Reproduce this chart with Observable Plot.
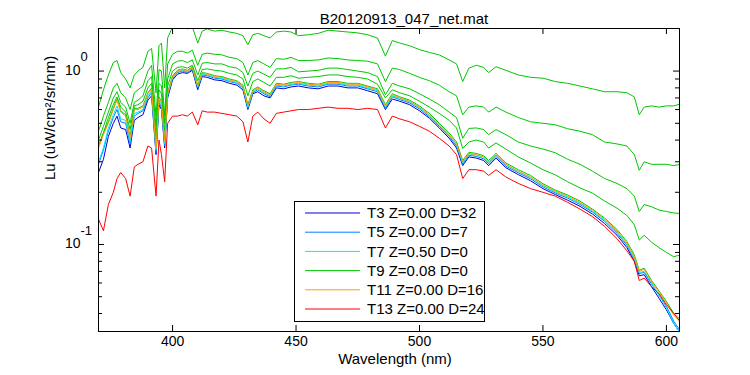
<!DOCTYPE html>
<html><head><meta charset="utf-8">
<script src="https://cdn.jsdelivr.net/npm/d3@7"></script>
<script src="https://cdn.jsdelivr.net/npm/@observablehq/plot@0.6"></script>
<style>
html,body{margin:0;padding:0;background:#fff;}
#chart{position:relative;width:750px;height:375px;}
svg{font-family:"Liberation Sans",Arial,Helvetica,sans-serif;}
</style></head><body><div id="chart"></div>
<script>
const wavelengths = [
370,372,374,376,377.5,379,381,382.8,384.5,386,
388,390,391.5,393.3,394.5,395.5,396.8,398,400,402,
404,406,408,410.2,412,414,417,420,423,426,
428.5,430.5,432.5,434.5,437,439.5,442,445,448,451,
455,459,463,467,471,475,479,483,486.2,489,
492,496,500,504,508,512,515,517.5,520,523,
526,528,531,535,540,545,550,555,560,565,
570,575,580,584,587,589,591,594,597,600,
603,605.5];

const T3 = [
0.26,0.31,0.42,0.50,0.55,0.47,0.46,0.36,0.52,0.54,
0.56,0.68,0.72,0.33,0.64,0.60,0.36,0.70,0.89,0.96,
0.98,0.97,1.01,0.78,0.93,0.92,0.89,0.88,0.85,0.83,
0.78,0.60,0.74,0.76,0.72,0.70,0.80,0.79,0.81,0.82,
0.80,0.79,0.82,0.82,0.80,0.80,0.77,0.74,0.60,0.69,
0.67,0.64,0.59,0.535,0.47,0.41,0.36,0.285,0.32,0.315,
0.305,0.285,0.315,0.277,0.253,0.233,0.21,0.194,0.18,0.166,
0.15,0.132,0.113,0.096,0.08,0.066,0.067,0.057,0.049,0.042,
0.035,0.031];
const T5 = [
0.29,0.35,0.45,0.54,0.60,0.51,0.50,0.38,0.55,0.57,
0.59,0.70,0.75,0.34,0.66,0.62,0.37,0.72,0.91,0.98,
1.00,0.98,1.03,0.80,0.95,0.94,0.91,0.90,0.87,0.85,
0.80,0.61,0.75,0.78,0.74,0.71,0.82,0.81,0.83,0.84,
0.82,0.81,0.84,0.84,0.82,0.82,0.79,0.76,0.61,0.71,
0.685,0.655,0.605,0.545,0.48,0.42,0.37,0.29,0.327,0.322,
0.312,0.292,0.322,0.283,0.259,0.239,0.215,0.198,0.185,0.17,
0.154,0.136,0.116,0.099,0.082,0.068,0.069,0.059,0.051,0.044,
0.036,0.032];
const T7 = [
0.30,0.36,0.47,0.56,0.63,0.53,0.52,0.39,0.57,0.58,
0.60,0.72,0.77,0.35,0.68,0.64,0.38,0.73,0.92,0.99,
1.01,0.99,1.04,0.81,0.96,0.95,0.92,0.91,0.88,0.86,
0.81,0.62,0.76,0.79,0.75,0.72,0.83,0.82,0.84,0.85,
0.83,0.82,0.85,0.85,0.83,0.83,0.80,0.77,0.62,0.72,
0.695,0.665,0.615,0.555,0.49,0.428,0.378,0.296,0.333,0.328,
0.318,0.298,0.328,0.288,0.263,0.243,0.219,0.201,0.188,0.173,
0.156,0.138,0.118,0.10,0.083,0.069,0.07,0.06,0.051,0.043,
0.035,0.031];
const T9 = [
0.37,0.44,0.51,0.61,0.69,0.59,0.56,0.42,0.61,0.61,
0.63,0.75,0.80,0.37,0.71,0.67,0.40,0.75,0.94,1.01,
1.03,1.01,1.06,0.83,0.98,0.97,0.94,0.93,0.90,0.88,
0.83,0.64,0.78,0.81,0.77,0.74,0.85,0.84,0.86,0.87,
0.85,0.84,0.87,0.87,0.85,0.85,0.82,0.79,0.64,0.74,
0.71,0.68,0.63,0.57,0.50,0.44,0.39,0.305,0.34,0.335,
0.325,0.305,0.335,0.295,0.27,0.25,0.224,0.206,0.193,0.178,
0.16,0.142,0.122,0.104,0.087,0.071,0.073,0.062,0.054,0.047,
0.040,0.037];
const T11 = [
0.36,0.43,0.50,0.60,0.68,0.58,0.55,0.41,0.60,0.60,
0.62,0.74,0.79,0.36,0.70,0.66,0.39,0.74,0.93,1.00,
1.02,1.00,1.05,0.82,0.97,0.96,0.93,0.92,0.89,0.87,
0.82,0.63,0.77,0.80,0.76,0.73,0.84,0.83,0.85,0.86,
0.84,0.83,0.86,0.86,0.84,0.84,0.81,0.78,0.63,0.73,
0.70,0.67,0.62,0.56,0.49,0.43,0.38,0.30,0.335,0.33,
0.32,0.30,0.33,0.29,0.265,0.245,0.22,0.203,0.19,0.175,
0.158,0.14,0.12,0.102,0.085,0.07,0.072,0.061,0.053,0.046,
0.039,0.036];
const T13 = [
0.14,0.12,0.17,0.20,0.24,0.26,0.24,0.19,0.28,0.29,
0.30,0.37,0.36,0.19,0.40,0.33,0.23,0.50,0.55,0.55,
0.56,0.55,0.58,0.49,0.59,0.58,0.58,0.57,0.56,0.55,
0.51,0.39,0.55,0.58,0.53,0.50,0.57,0.58,0.59,0.60,
0.60,0.61,0.62,0.61,0.61,0.60,0.61,0.60,0.47,0.55,
0.53,0.51,0.48,0.45,0.41,0.37,0.33,0.24,0.27,0.27,
0.265,0.25,0.27,0.245,0.225,0.21,0.20,0.19,0.175,0.16,
0.145,0.127,0.108,0.092,0.08,0.062,0.064,0.057,0.052,0.045,
0.040,0.036];

// additional green (T9) profiles above the main bundle
const G1 = [
0.62,0.78,0.95,1.12,1.15,0.98,0.90,0.80,0.95,1.00,
1.05,1.30,1.35,0.75,1.40,1.45,0.80,1.55,1.80,1.85,
1.85,1.75,1.80,1.45,1.70,1.75,1.70,1.72,1.68,1.65,
1.60,1.42,1.62,1.65,1.60,1.55,1.68,1.70,1.68,1.60,
1.62,1.65,1.72,1.70,1.68,1.66,1.62,1.55,1.22,1.50,
1.45,1.40,1.33,1.28,1.24,1.16,1.10,0.87,1.04,1.08,
1.05,0.98,1.06,1.01,0.95,0.92,0.91,0.87,0.85,0.82,
0.79,0.76,0.76,0.75,0.71,0.56,0.62,0.63,0.62,0.63,
0.63,0.645];
const G2 = [
0.45,0.55,0.66,0.80,0.85,0.75,0.70,0.60,0.75,0.78,
0.82,1.00,1.08,0.55,1.02,1.00,0.55,1.10,1.25,1.30,
1.30,1.27,1.32,1.08,1.25,1.27,1.25,1.24,1.20,1.18,
1.12,0.95,1.12,1.15,1.10,1.05,1.18,1.17,1.20,1.15,
1.15,1.16,1.19,1.18,1.16,1.15,1.14,1.10,0.87,1.04,
1.02,0.97,0.92,0.88,0.83,0.76,0.72,0.56,0.62,0.63,
0.62,0.58,0.62,0.58,0.54,0.51,0.50,0.49,0.465,0.45,
0.43,0.39,0.38,0.37,0.33,0.268,0.30,0.29,0.29,0.29,
0.285,0.29];
const G3 = [
0.40,0.48,0.58,0.70,0.76,0.66,0.62,0.50,0.66,0.68,
0.72,0.88,0.93,0.48,0.85,0.82,0.50,0.90,1.10,1.14,
1.15,1.12,1.16,0.95,1.11,1.12,1.10,1.10,1.06,1.04,
0.98,0.82,0.97,1.00,0.96,0.92,1.03,1.03,1.05,0.99,
1.00,1.01,1.04,1.04,1.02,1.00,0.98,0.93,0.73,0.85,
0.82,0.79,0.74,0.69,0.64,0.58,0.54,0.41,0.467,0.47,
0.46,0.43,0.46,0.43,0.39,0.37,0.355,0.338,0.31,0.29,
0.265,0.24,0.225,0.21,0.19,0.155,0.17,0.165,0.158,0.155,
0.152,0.151];
const G4 = [
0.37,0.44,0.54,0.64,0.71,0.62,0.58,0.46,0.63,0.64,
0.67,0.80,0.85,0.42,0.78,0.74,0.45,0.82,1.00,1.05,
1.06,1.04,1.08,0.88,1.02,1.03,1.01,1.00,0.97,0.95,
0.90,0.72,0.87,0.90,0.86,0.82,0.92,0.92,0.94,0.91,
0.92,0.93,0.95,0.95,0.93,0.92,0.90,0.84,0.70,0.78,
0.75,0.72,0.67,0.62,0.57,0.52,0.47,0.358,0.39,0.40,
0.39,0.36,0.385,0.355,0.32,0.295,0.27,0.252,0.23,0.212,
0.198,0.178,0.162,0.147,0.13,0.106,0.113,0.103,0.096,0.09,
0.085,0.087];

const seriesNames = ["T3 Z=0.00 D=32","T5 Z=0.00 D=7","T7 Z=0.50 D=0","T9 Z=0.08 D=0","T11 Z=0.00 D=16","T13 Z=0.00 D=24"];
const seriesColors = ["#0000d0","#0080ff","#00e8ff","#00c800","#ffa000","#ff0000"];
const seriesValues = [T3,T5,T7,T9,T11,T13];
const extraGreens = [G1,G2,G3,G4];

const xTicks = [400,450,500,550,600];
const yMajorTicks = [0.1,1];
const yTickExponents = ["-1","0"];
const yMinorTicks = [0.04,0.05,0.06,0.07,0.08,0.09,0.2,0.3,0.4,0.5,0.6,0.7,0.8,0.9];
const titleText = "B20120913_047_net.mat";
const xLabel = "Wavelength (nm)";
const yLabel = "Lu (uW/cm\u00B2/sr/nm)";

const W = 750, H = 375, mL = 98, mR = 71, mT = 28, mB = 44;
const iw = W - mL - mR, ih = H - mT - mB;
const rowsFor = vals => wavelengths.map((w, i) => ({wl: w, v: vals[i]}));

const lineMarks = [];
seriesValues.forEach((vals, i) => {
  if (i === 3) extraGreens.forEach(g => lineMarks.push(Plot.line(rowsFor(g), {x: "wl", y: "v", stroke: seriesColors[3], strokeWidth: 1, clip: true})));
  lineMarks.push(Plot.line(rowsFor(vals), {x: "wl", y: "v", stroke: seriesColors[i], strokeWidth: 1, clip: true}));
});

const font = '"Liberation Sans", Arial, Helvetica, sans-serif';
const plot = Plot.plot({
  width: W, height: H,
  marginLeft: mL, marginRight: mR, marginTop: mT, marginBottom: mB,
  style: {fontFamily: font, background: "white", color: "black"},
  x: {domain: [370, 605.3], axis: null},
  y: {type: "log", domain: [0.0315, 1.76], axis: null},
  marks: [
    ...lineMarks,
    Plot.tickX(xTicks, {x: d => d, insetTop: ih - 6, stroke: "black"}),
    Plot.tickX(xTicks, {x: d => d, insetBottom: ih - 6, stroke: "black"}),
    Plot.tickY(yMajorTicks, {y: d => d, insetRight: iw - 6, stroke: "black"}),
    Plot.tickY(yMajorTicks, {y: d => d, insetLeft: iw - 6, stroke: "black"}),
    Plot.tickY(yMinorTicks, {y: d => d, insetRight: iw - 4, stroke: "black"}),
    Plot.tickY(yMinorTicks, {y: d => d, insetLeft: iw - 4, stroke: "black"}),
    Plot.frame({stroke: "black"}),
    Plot.text(xTicks, {x: d => d, frameAnchor: "bottom", dy: 14, text: d => String(d), fontSize: 14}),
    Plot.text(yMajorTicks, {y: d => d, frameAnchor: "left", dx: -18, dy: -1, textAnchor: "end", text: () => "10", fontSize: 14}),
    Plot.text(yMajorTicks, {y: d => d, frameAnchor: "left", dx: -18, dy: -14, textAnchor: "start", text: (d, i) => yTickExponents[i], fontSize: 13}),
    Plot.text([titleText], {frameAnchor: "top", dx: 15, dy: -15.5, text: d => d, fontSize: 15}),
    Plot.text([xLabel], {frameAnchor: "bottom", dx: 6, dy: 32.5, text: d => d, fontSize: 15}),
    Plot.text([yLabel], {frameAnchor: "left", dx: -48, rotate: -90, text: d => d, fontSize: 15})
  ]
});

const svg = d3.select(plot);
const lg = svg.append("g").attr("text-anchor", "start");
const lx = 294.5, ly = 201.5, lw = 190, lh = 120, rowH = 19.2;
lg.append("rect").attr("x", lx).attr("y", ly).attr("width", lw).attr("height", lh)
  .attr("fill", "white").attr("stroke", "black");
seriesNames.forEach((name, i) => {
  const cy = ly + 11.5 + i * rowH;
  lg.append("line").attr("x1", lx + 10.5).attr("x2", lx + 65.5).attr("y1", cy).attr("y2", cy)
    .attr("stroke", seriesColors[i]).attr("stroke-width", 1);
  lg.append("text").attr("x", lx + 72.5).attr("y", cy).attr("dy", "0.35em")
    .attr("text-anchor", "start")
    .attr("font-size", 15).attr("font-family", font).attr("fill", "black").text(name);
});
document.getElementById("chart").appendChild(plot);
</script></body></html>
